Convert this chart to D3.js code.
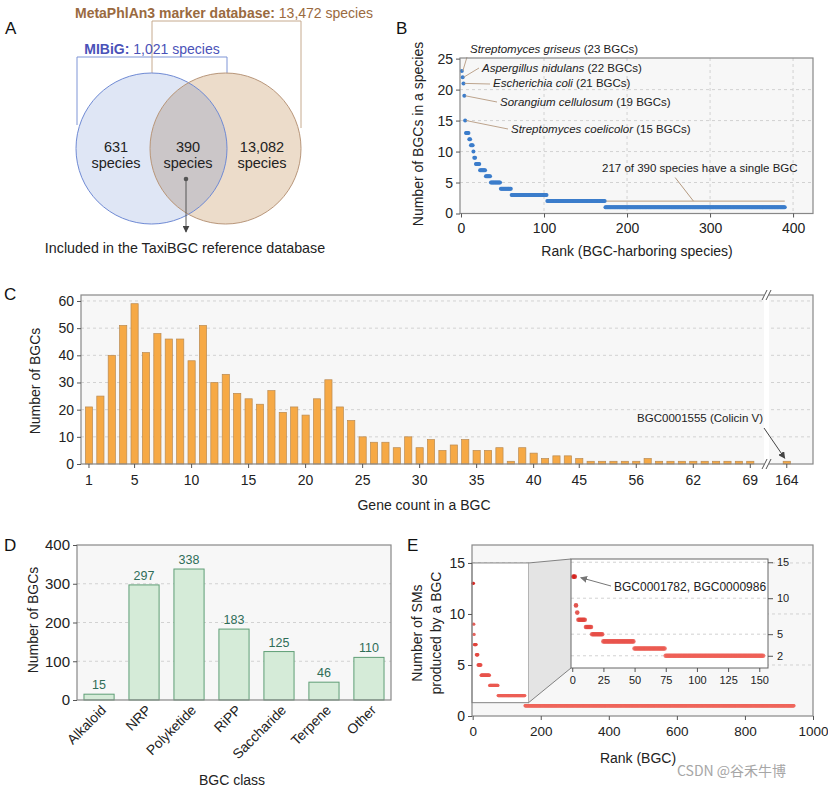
<!DOCTYPE html>
<html>
<head>
<meta charset="utf-8">
<script src="https://cdn.jsdelivr.net/npm/d3@7"></script>
<style>
body { margin: 0; background: #fff; }
</style>
</head>
<body>
<div id="fig"></div>
<script>
'use strict';

// A: species overlap
var vennCounts = ['631', '390', '13,082'];
var mibigTotal = '1,021';
var metaTotal = '13,472';

// B: number of BGCs per species, ranked
var bLevels = [23, 22, 21, 19, 15, 13, 12, 11, 10, 9, 8, 7, 6, 5, 4, 3, 2, 1];
var bCounts = [1, 1, 1, 1, 1, 4, 2, 3, 1, 2, 5, 7, 6, 12, 13, 43, 70, 217];
var bNoteNames = ['Streptomyces griseus', 'Aspergillus nidulans', 'Escherichia coli', 'Sorangium cellulosum', 'Streptomyces coelicolor'];
var bNoteBGCs = [23, 22, 21, 19, 15];

// C: gene count per BGC
var cGenes = [1, 2, 3, 4, 5, 6, 7, 8, 9, 10, 11, 12, 13, 14, 15, 16, 17, 18, 19, 20,
  21, 22, 23, 24, 25, 26, 27, 28, 29, 30, 31, 32, 33, 34, 35, 36, 37, 38, 39, 40,
  41, 42, 43, 45, 46, 47, 49, 51, 56, 57, 58, 59, 60, 62, 63, 64, 66, 67, 69, 164];
var cValues = [21, 25, 40, 51, 59, 41, 48, 46, 46, 38, 51, 30, 33, 26, 24, 22, 27, 19, 21, 18,
  24, 31, 21, 16, 10, 8, 8, 6, 10, 6, 9, 5, 7, 9, 5, 5, 6, 1, 6, 4,
  2, 3, 3, 2, 1, 1, 1, 1, 1, 2, 1, 1, 1, 1, 1, 1, 1, 1, 1, 1];
var cTickGenes = [1, 5, 10, 15, 20, 25, 30, 35, 40, 45, 56, 62, 69, 164];

// D: BGC classes
var dClasses = ['Alkaloid', 'NRP', 'Polyketide', 'RiPP', 'Saccharide', 'Terpene', 'Other'];
var dValues = [15, 297, 338, 183, 125, 46, 110];

// E: number of SMs per BGC, ranked
var eLevels = [13, 9, 8, 7, 6, 5, 4, 3, 2, 1];
var eCounts = [2, 1, 1, 6, 5, 9, 25, 25, 79, 791];

var FONT = '"Liberation Sans", Arial, Helvetica, sans-serif';

var svg = d3.select('#fig').append('svg')
  .attr('width', 828).attr('height', 789)
  .attr('font-family', FONT);

var defs = svg.append('defs');
function marker(id, color) {
  defs.append('marker').attr('id', id)
    .attr('viewBox', '0 0 10 10').attr('refX', 9).attr('refY', 5)
    .attr('markerWidth', 7).attr('markerHeight', 7).attr('orient', 'auto')
    .append('path').attr('d', 'M0,0L10,5L0,10z').attr('fill', color);
}
marker('arrDark', '#444');
marker('arrGray', '#777');

function expand(levels, counts) {
  var out = [], rank = 1;
  levels.forEach(function(v, i) {
    for (var k = 0; k < counts[i]; k++) out.push({rank: rank++, value: v});
  });
  return out;
}

function styleAxis(g, size) {
  g.attr('font-family', FONT).attr('font-size', size);
  g.select('.domain').remove();
  g.selectAll('.tick line').attr('stroke', '#555');
  g.selectAll('.tick text').attr('fill', '#222');
}

function plotBg(g, x0, y0, x1, y1) {
  g.append('rect').attr('x', x0).attr('y', y0)
    .attr('width', x1 - x0).attr('height', y1 - y0)
    .attr('fill', '#f7f7f7');
}
function plotBorder(g, x0, y0, x1, y1) {
  g.append('rect').attr('x', x0).attr('y', y0)
    .attr('width', x1 - x0).attr('height', y1 - y0)
    .attr('fill', 'none').attr('stroke', '#888').attr('stroke-width', 1.2);
}
function hgrid(g, scale, ticks, x0, x1) {
  g.selectAll(null).data(ticks).enter().append('line')
    .attr('x1', x0).attr('x2', x1)
    .attr('y1', function(d) { return scale(d); })
    .attr('y2', function(d) { return scale(d); })
    .attr('stroke', '#d2d2d2').attr('stroke-dasharray', '3,3');
}
function vgrid(g, scale, ticks, y0, y1) {
  g.selectAll(null).data(ticks).enter().append('line')
    .attr('y1', y0).attr('y2', y1)
    .attr('x1', function(d) { return scale(d); })
    .attr('x2', function(d) { return scale(d); })
    .attr('stroke', '#d2d2d2').attr('stroke-dasharray', '3,3');
}
function letter(txt, x, y) {
  svg.append('text').attr('x', x).attr('y', y).attr('font-size', 17)
    .attr('fill', '#111').text(txt);
}
function ytitle(g, txt, x, y, size) {
  g.append('text').attr('transform', 'translate(' + x + ',' + y + ') rotate(-90)')
    .attr('text-anchor', 'middle').attr('font-size', size || 14).attr('fill', '#222').text(txt);
}
function xtitle(g, txt, x, y, size) {
  g.append('text').attr('x', x).attr('y', y)
    .attr('text-anchor', 'middle').attr('font-size', size || 14).attr('fill', '#222').text(txt);
}

// ================= A =================
var gA = svg.append('g');
letter('A', 5, 34);
var r = 75.5, cL = [151.5, 148.5], cR = [225.5, 148.5];

// brackets
gA.append('path')
  .attr('d', 'M77,125V57H227V125')
  .attr('fill', 'none').attr('stroke', '#7f95d6').attr('stroke-width', 1);
gA.append('path')
  .attr('d', 'M152,125V21H301V128')
  .attr('fill', 'none').attr('stroke', '#c6aa8e').attr('stroke-width', 1);

defs.append('clipPath').attr('id', 'clipL')
  .append('circle').attr('cx', cL[0]).attr('cy', cL[1]).attr('r', r);

gA.append('circle').attr('cx', cL[0]).attr('cy', cL[1]).attr('r', r).attr('fill', '#dfe6f5');
gA.append('circle').attr('cx', cR[0]).attr('cy', cR[1]).attr('r', r).attr('fill', '#ecdcca');
gA.append('circle').attr('cx', cR[0]).attr('cy', cR[1]).attr('r', r)
  .attr('clip-path', 'url(#clipL)').attr('fill', '#cbc6c8');
gA.append('circle').attr('cx', cL[0]).attr('cy', cL[1]).attr('r', r)
  .attr('fill', 'none').attr('stroke', '#6f8ad4').attr('stroke-width', 1);
gA.append('circle').attr('cx', cR[0]).attr('cy', cR[1]).attr('r', r)
  .attr('fill', 'none').attr('stroke', '#b8967a').attr('stroke-width', 1);

var vennX = [116, 188, 262];
vennCounts.forEach(function(c, i) {
  var t = gA.append('text').attr('text-anchor', 'middle').attr('font-size', 14.5).attr('fill', '#222');
  t.append('tspan').attr('x', vennX[i]).attr('y', 152).text(c);
  t.append('tspan').attr('x', vennX[i]).attr('y', 168).text('species');
});

var t1 = gA.append('text').attr('x', 152).attr('y', 54).attr('text-anchor', 'middle')
  .attr('font-size', 14).attr('fill', '#4a52b8');
t1.append('tspan').attr('font-weight', 'bold').text('MIBiG:');
t1.append('tspan').text(' ' + mibigTotal + ' species');

var t2 = gA.append('text').attr('x', 224).attr('y', 18).attr('text-anchor', 'middle')
  .attr('font-size', 14).attr('fill', '#9a6a40');
t2.append('tspan').attr('font-weight', 'bold').text('MetaPhlAn3 marker database:');
t2.append('tspan').text(' ' + metaTotal + ' species');

gA.append('circle').attr('cx', 186).attr('cy', 179).attr('r', 2.3).attr('fill', '#555');
gA.append('line').attr('x1', 186).attr('y1', 179).attr('x2', 186).attr('y2', 232)
  .attr('stroke', '#555').attr('stroke-width', 1).attr('marker-end', 'url(#arrDark)');
xtitle(gA, 'Included in the TaxiBGC reference database', 185, 253, 14.3);

// ================= B =================
var gB = svg.append('g');
letter('B', 396, 34);
var bx0 = 460, bx1 = 813, by0 = 58, by1 = 213.5;
var xB = d3.scaleLinear().domain([-1.2, 424]).range([bx0, bx1]);
var yB = d3.scaleLinear().domain([0, 25.1]).range([by1, by0]);
var bData = expand(bLevels, bCounts);

plotBg(gB, bx0, by0, bx1, by1);
hgrid(gB, yB, [5, 10, 15, 20], bx0, bx1);
vgrid(gB, xB, [100, 200, 300, 400], by0, by1);

// bracket over the single-BGC species
var singles = bData.filter(function(d) { return d.value === 1; });
gB.append('line')
  .attr('x1', xB(singles[0].rank)).attr('x2', xB(singles[singles.length - 1].rank))
  .attr('y1', yB(2)).attr('y2', yB(2))
  .attr('stroke', '#b59a80').attr('stroke-width', 1);
gB.append('line')
  .attr('x1', xB(280)).attr('y1', yB(2)).attr('x2', xB(258)).attr('y2', yB(5.8))
  .attr('stroke', '#b59a80').attr('stroke-width', 1);

gB.selectAll('circle.pt').data(bData).enter().append('circle')
  .attr('class', 'pt')
  .attr('cx', function(d) { return xB(d.rank); })
  .attr('cy', function(d) { return yB(d.value); })
  .attr('r', 2).attr('fill', '#3c7dcb');

var bLab = [[470, 53], [482, 72], [493, 87], [500, 106], [511, 133]];
var bEnd = [[467, 57], [479, 68], [490, 84], [497, 102], [508, 129]];
bNoteNames.forEach(function(n, i) {
  var d = bData.filter(function(p) { return p.value === bNoteBGCs[i]; })[0];
  gB.append('line')
    .attr('x1', xB(d.rank) + 1).attr('y1', yB(d.value))
    .attr('x2', bEnd[i][0]).attr('y2', bEnd[i][1])
    .attr('stroke', '#b59a80').attr('stroke-width', 0.9);
  var t = gB.append('text').attr('x', bLab[i][0]).attr('y', bLab[i][1])
    .attr('font-size', 11.5).attr('fill', '#222');
  t.append('tspan').attr('font-style', 'italic').text(n);
  t.append('tspan').text(' (' + bNoteBGCs[i] + ' BGCs)');
});
gB.append('text').attr('x', 602).attr('y', 172).attr('font-size', 11.5).attr('fill', '#222')
  .text('217 of 390 species have a single BGC');

plotBorder(gB, bx0, by0, bx1, by1);
gB.append('g').attr('transform', 'translate(0,' + by1 + ')')
  .call(d3.axisBottom(xB).tickValues([0, 100, 200, 300, 400]).tickSize(4).tickPadding(6))
  .call(styleAxis, 14);
gB.append('g').attr('transform', 'translate(' + bx0 + ',0)')
  .call(d3.axisLeft(yB).tickValues([0, 5, 10, 15, 20, 25]).tickSize(4).tickPadding(3))
  .call(styleAxis, 14);
xtitle(gB, 'Rank (BGC-harboring species)', 637, 256);
ytitle(gB, 'Number of BGCs in a species', 423, 134);

// ================= C =================
var gC = svg.append('g');
letter('C', 4, 300);
var cx0 = 81, cx1 = 813, cy0 = 295, cy1 = 464;
var cSlot = cGenes.map(function(g, i) { return i < 59 ? i : i + 2.2; });
var xC = d3.scaleLinear().domain([-0.7, 63.5]).range([cx0, cx1]);
var yC = d3.scaleLinear().domain([0, 62.2]).range([cy1, cy0]);
function cPos(g) { return xC(cSlot[cGenes.indexOf(g)]); }

plotBg(gC, cx0, cy0, cx1, cy1);
hgrid(gC, yC, [10, 20, 30, 40, 50, 60], cx0, cx1);

gC.selectAll('rect.bar').data(cValues).enter().append('rect')
  .attr('class', 'bar')
  .attr('x', function(d, i) { return xC(cSlot[i]) - 3.6; })
  .attr('y', function(d) { return yC(d); })
  .attr('width', 7.2)
  .attr('height', function(d) { return yC(0) - yC(d); })
  .attr('fill', '#f6a945').attr('stroke', '#b98a52').attr('stroke-width', 0.7);

plotBorder(gC, cx0, cy0, cx1, cy1);

// axis break
var brk = (xC(58) + xC(cSlot[59])) / 2 - 2;
gC.append('rect').attr('x', brk - 2.5).attr('y', cy0 - 2).attr('width', 5).attr('height', cy1 - cy0 + 4)
  .attr('fill', '#fff');
[cy0, cy1].forEach(function(yy) {
  [-2, 2].forEach(function(dx) {
    gC.append('line').attr('x1', brk + dx - 2.5).attr('y1', yy + 5)
      .attr('x2', brk + dx + 2.5).attr('y2', yy - 5)
      .attr('stroke', '#555').attr('stroke-width', 1);
  });
});

var cAx = gC.append('g').attr('transform', 'translate(0,' + cy1 + ')');
cAx.selectAll('g.tick').data(cTickGenes).enter().append('g')
  .attr('class', 'tick')
  .attr('transform', function(g) { return 'translate(' + cPos(g) + ',0)'; })
  .each(function(g) {
    var s = d3.select(this);
    s.append('line').attr('y2', 4).attr('stroke', '#555');
    s.append('text').attr('y', 21).attr('text-anchor', 'middle')
      .attr('font-size', 14).attr('fill', '#222').text(g);
  });
gC.append('g').attr('transform', 'translate(' + cx0 + ',0)')
  .call(d3.axisLeft(yC).tickValues([0, 10, 20, 30, 40, 50, 60]).tickSize(4).tickPadding(3))
  .call(styleAxis, 14);

gC.append('text').attr('x', 763).attr('y', 422).attr('text-anchor', 'end')
  .attr('font-size', 11.5).attr('fill', '#222').text('BGC0001555 (Colicin V)');
gC.append('line').attr('x1', 764).attr('y1', 428)
  .attr('x2', cPos(164) - 2).attr('y2', yC(1) - 3)
  .attr('stroke', '#444').attr('stroke-width', 1).attr('marker-end', 'url(#arrDark)');

xtitle(gC, 'Gene count in a BGC', 424, 510);
ytitle(gC, 'Number of BGCs', 40, 381);

// ================= D =================
var gD = svg.append('g');
letter('D', 4, 551);
var dx0 = 77, dx1 = 391, dy0 = 545, dy1 = 700;
var xD = d3.scaleBand().domain(dClasses).range([dx0, dx1]).paddingInner(0.33).paddingOuter(0.155);
var yD = d3.scaleLinear().domain([0, 400]).range([dy1, dy0]);

plotBg(gD, dx0, dy0, dx1, dy1);
hgrid(gD, yD, [100, 200, 300], dx0, dx1);
gD.selectAll('rect.bar').data(dValues).enter().append('rect')
  .attr('class', 'bar')
  .attr('x', function(d, i) { return xD(dClasses[i]); })
  .attr('y', function(d) { return yD(d); })
  .attr('width', xD.bandwidth())
  .attr('height', function(d) { return yD(0) - yD(d); })
  .attr('fill', '#d5ebd8').attr('stroke', '#5f9e76').attr('stroke-width', 1);
gD.selectAll('text.val').data(dValues).enter().append('text')
  .attr('class', 'val')
  .attr('x', function(d, i) { return xD(dClasses[i]) + xD.bandwidth() / 2; })
  .attr('y', function(d) { return yD(d) - 5; })
  .attr('text-anchor', 'middle').attr('font-size', 12.5).attr('fill', '#2f6d58')
  .text(function(d) { return d; });
plotBorder(gD, dx0, dy0, dx1, dy1);

gD.append('g').attr('transform', 'translate(' + dx0 + ',0)')
  .call(d3.axisLeft(yD).tickValues([0, 100, 200, 300, 400]).tickSize(4).tickPadding(3))
  .call(styleAxis, 15);
gD.selectAll('text.cls').data(dClasses).enter().append('text')
  .attr('class', 'cls')
  .attr('transform', function(d) {
    return 'translate(' + (xD(d) + xD.bandwidth() / 2 + 8) + ',' + (dy1 + 11) + ') rotate(-45)';
  })
  .attr('text-anchor', 'end').attr('font-size', 13.8).attr('fill', '#222')
  .text(function(d) { return d; });
xtitle(gD, 'BGC class', 232, 785);
ytitle(gD, 'Number of BGCs', 38, 620);

// ================= E =================
var gE = svg.append('g');
letter('E', 407, 551);
var ex0 = 472, ex1 = 813, ey0 = 545, ey1 = 716;
var xE = d3.scaleLinear().domain([-2, 1000]).range([ex0, ex1]);
var yE = d3.scaleLinear().domain([0, 16.76]).range([ey1, ey0]);
var eData = expand(eLevels, eCounts);
var eColor = d3.scaleLinear().domain([1, 13]).range(['#f0665c', '#d21f1a']);

plotBg(gE, ex0, ey0, ex1, ey1);
hgrid(gE, yE, [5, 10, 15], ex0, ex1);

// zoom window on main plot
var zx1 = xE(164), zy0 = yE(15), zy1 = yE(1.3);
var ix0 = 571, ix1 = 768, iy0 = 559, iy1 = 668;
gE.append('rect').attr('x', ex0).attr('y', zy0).attr('width', zx1 - ex0).attr('height', zy1 - zy0)
  .attr('fill', '#fff').attr('stroke', '#666').attr('stroke-width', 0.8);
gE.append('path')
  .attr('d', 'M' + zx1 + ',' + zy0 + 'L' + ix0 + ',' + iy0 + 'L' + ix0 + ',' + iy1 + 'L' + zx1 + ',' + zy1 + 'Z')
  .attr('fill', '#e4e4e4').attr('stroke', 'none');
gE.append('line').attr('x1', zx1).attr('y1', zy0).attr('x2', ix0).attr('y2', iy0)
  .attr('stroke', '#666').attr('stroke-width', 0.8);
gE.append('line').attr('x1', zx1).attr('y1', zy1).attr('x2', ix0).attr('y2', iy1)
  .attr('stroke', '#666').attr('stroke-width', 0.8);

gE.selectAll('circle.pt').data(eData).enter().append('circle')
  .attr('class', 'pt')
  .attr('cx', function(d) { return xE(d.rank); })
  .attr('cy', function(d) { return yE(d.value); })
  .attr('r', 1.7).attr('fill', function(d) { return eColor(d.value); })
  .attr('opacity', 0.8);

plotBorder(gE, ex0, ey0, ex1, ey1);
gE.append('g').attr('transform', 'translate(0,' + ey1 + ')')
  .call(d3.axisBottom(xE).tickValues([0, 200, 400, 600, 800, 1000])
    .tickFormat(d3.format('d')).tickSize(4).tickPadding(6))
  .call(styleAxis, 13.5);
gE.append('g').attr('transform', 'translate(' + ex0 + ',0)')
  .call(d3.axisLeft(yE).tickValues([0, 5, 10, 15]).tickSize(4).tickPadding(3))
  .call(styleAxis, 14);

// inset
var xI = d3.scaleLinear().domain([-1, 157]).range([ix0, ix1]);
var yI = d3.scaleLinear().domain([0.3, 15.45]).range([iy1, iy0]);
var iData = eData.filter(function(d) { return d.value >= 2; });
gE.append('rect').attr('x', ix0).attr('y', iy0).attr('width', ix1 - ix0).attr('height', iy1 - iy0)
  .attr('fill', '#fff');
hgrid(gE, yI, [2, 5, 10, 15], ix0, ix1);
gE.selectAll('circle.ipt').data(iData).enter().append('circle')
  .attr('class', 'ipt')
  .attr('cx', function(d) { return xI(d.rank); })
  .attr('cy', function(d) { return yI(d.value); })
  .attr('r', 2.3).attr('fill', function(d) { return eColor(d.value); })
  .attr('opacity', 0.85);
gE.append('rect').attr('x', ix0).attr('y', iy0).attr('width', ix1 - ix0).attr('height', iy1 - iy0)
  .attr('fill', 'none').attr('stroke', '#666').attr('stroke-width', 1);
gE.append('g').attr('transform', 'translate(0,' + iy1 + ')')
  .call(d3.axisBottom(xI).tickValues([0, 25, 50, 75, 100, 125, 150]).tickSize(4).tickPadding(4))
  .call(styleAxis, 11);
gE.append('g').attr('transform', 'translate(' + ix1 + ',0)')
  .call(d3.axisRight(yI).tickValues([2, 5, 10, 15]).tickSize(5).tickPadding(4))
  .call(styleAxis, 11);

gE.append('text').attr('x', 614).attr('y', 591).attr('font-size', 12).attr('fill', '#222')
  .text('BGC0001782, BGC0000986');
gE.append('line').attr('x1', 611).attr('y1', 586)
  .attr('x2', xI(2) + 6).attr('y2', yI(13) + 1)
  .attr('stroke', '#777').attr('stroke-width', 1).attr('marker-end', 'url(#arrGray)');

xtitle(gE, 'Rank (BGC)', 638, 763);
ytitle(gE, 'Number of SMs', 422, 633);
ytitle(gE, 'produced by a BGC', 441, 633);

// watermark
svg.append('text').attr('x', 677).attr('y', 776)
  .attr('font-family', '"Noto Sans CJK SC", ' + FONT)
  .attr('font-size', 14).attr('fill', '#a6a6a6')
  .text('CSDN @谷禾牛博');
</script>
</body>
</html>
